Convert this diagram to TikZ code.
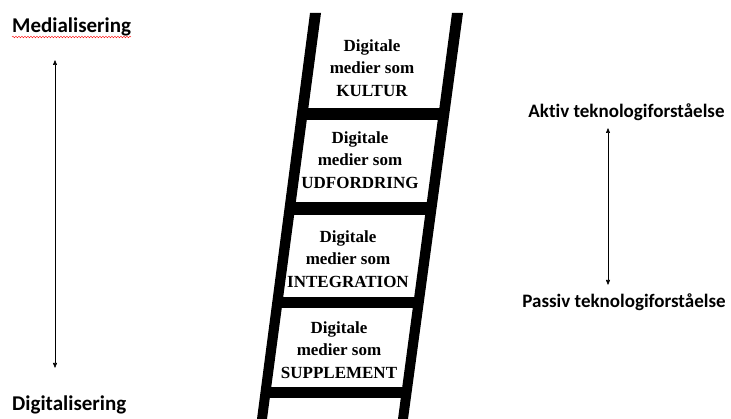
\documentclass[tikz,border=0pt]{standalone}
\usepackage{fontspec}
\setmainfont{Liberation Serif}
\newfontfamily\calib[Ligatures=NoCommon]{Carlito}
\usetikzlibrary{arrows.meta,decorations.pathmorphing}
\begin{document}
\begin{tikzpicture}[x=1pt,y=-1pt,
  rail/.style={fill=black},
  rung/.style={fill=black},
  steptext/.style={align=center,font=\fontsize{17}{22.5}\selectfont\bfseries,inner sep=0pt},
  sidelabel/.style={font=\calib\bfseries\fontsize{21}{24}\selectfont,inner sep=0pt},
  rightlabel/.style={font=\calib\bfseries\fontsize{19}{22}\selectfont,inner sep=0pt},
  dbl/.style={{Triangle[length=5pt,width=4pt]}-{Triangle[length=5pt,width=4pt]},line width=0.6pt}]
\useasboundingbox (0,0) rectangle (731,419);
\clip (0,0) rectangle (731,419);
% ladder rails
\fill[rail] (310,13) -- (321,13) -- (267,419) -- (257,419) -- cycle;
\fill[rail] (452,13) -- (463,13) -- (408,419) -- (398,419) -- cycle;
% rungs
\fill[rung] (300,108) rectangle (446,120);
\fill[rung] (288,202) rectangle (433,215);
\fill[rung] (275,297) rectangle (421,308);
\fill[rung] (263,387) rectangle (409,398);
% step texts
\node[steptext] (kultur) at (372,68) {Digitale\\medier som\\KULTUR};
\node[steptext] (udf) at (360,160) {Digitale\\medier som\\UDFORDRING};
\node[steptext] (integ) at (348,259) {Digitale\\medier som\\INTEGRATION};
\node[steptext] (suppl) at (339,350) {Digitale\\medier som\\SUPPLEMENT};
% left labels
\node[sidelabel,anchor=base west] (media) at (12,33) {Medialisering};
\node[sidelabel,anchor=base west] (digi) at (12,410) {Digitalisering};
\draw[red,line width=0.4pt,decorate,decoration={snake,amplitude=0.8pt,segment length=3pt}]
  ([yshift=-4pt]media.base west) -- ([yshift=-4pt]media.base east);
\coordinate (lt) at (55,60);
\coordinate (lb) at (55,368);
\draw[dbl] (lb) -- (lt);
% right labels
\node[rightlabel] (aktiv) at (626.5,112) {Akt\kern0pt iv teknologiforståelse};
\node[rightlabel] (passiv) at (624,302) {Passiv teknologiforståelse};
\coordinate (rt) at (608,128);
\coordinate (rb) at (608,285);
\draw[dbl] (rb) -- (rt);
\end{tikzpicture}
\end{document}
